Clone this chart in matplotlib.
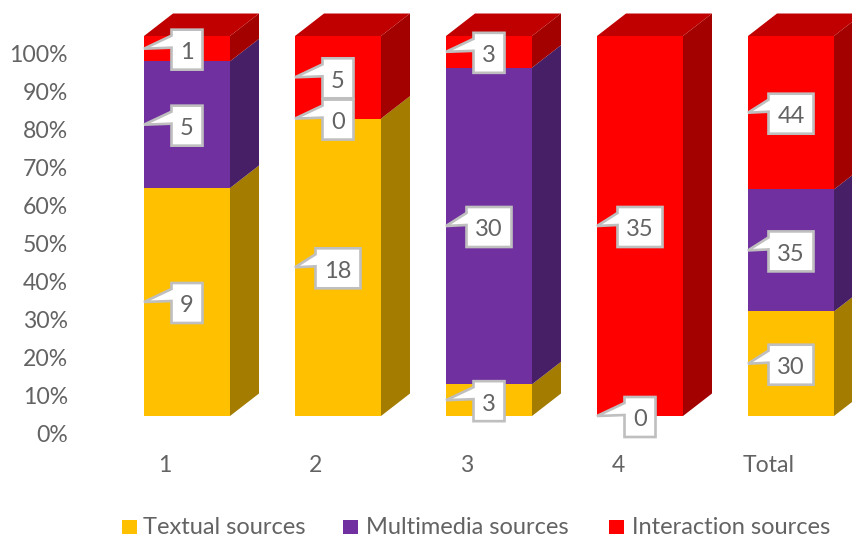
"""3D-look 100% stacked columns with callout labels, drawn on a flat axes."""

import matplotlib
matplotlib.use("Agg")
import matplotlib.pyplot as plt
import numpy as np
from matplotlib.patches import Polygon, Rectangle

# --- Data ------------------------------------------------------------------
categories = ["1", "2", "3", "4", "Total"]
textual = [9, 18, 3, 0, 30]
multimedia = [5, 0, 30, 0, 35]
interaction = [1, 5, 3, 35, 44]
series_names = ["Textual sources", "Multimedia sources", "Interaction sources"]
percent_ticks = [0, 10, 20, 30, 40, 50, 60, 70, 80, 90, 100]

# --- Style -----------------------------------------------------------------
W, H = 853, 538
FRONT = ["#FFC000", "#7030A0", "#FF0000"]
SIDE = ["#A37C00", "#471F66", "#A30000"]
TOP_FACE = ["#C29200", "#55247A", "#C00000"]
TEXT = "#636363"
BORDER = "#BFBFBF"

PX_X = 151.0  # pixels per category
PX_Y = 3.8    # pixels per percent
X0, Y0 = 187, 416  # pixel position of category 0 / 0%
BAR_W = 86 / PX_X
DX = 29 / PX_X
DY = 22.5 / PX_Y

plt.rcParams["font.family"] = ["Lato", "DejaVu Sans"]

fig = plt.figure(figsize=(W / 100, H / 100), dpi=100)
ax = fig.add_axes([0, 0, 1, 1])
ax.set_xlim(-X0 / PX_X, (W - X0) / PX_X)
ax.set_ylim(-(H - Y0) / PX_Y, Y0 / PX_Y)
ax.axis("off")


def callout(x_left, y_mid, value):
    """White box with a wedge pointing at the left edge of the segment."""
    half_w = (22.5 if value >= 10 else 15.5) / PX_X
    half_h = 20 / PX_Y
    box_mid = y_mid - 1 / PX_Y
    right = x_left + BAR_W / 2 + half_w
    left = x_left + BAR_W / 2 - half_w
    top = box_mid + half_h
    bottom = box_mid - half_h
    notch_hi = box_mid + 14 / PX_Y
    notch_lo = box_mid + 2 / PX_Y
    pts = [(left, bottom), (left, notch_lo), (x_left, y_mid), (left, notch_hi),
           (left, top), (right, top), (right, bottom)]
    ax.add_patch(Polygon(pts, closed=True, facecolor="white", edgecolor=BORDER,
                         linewidth=1.9, joinstyle="miter", zorder=5))
    ax.text(x_left + BAR_W / 2, y_mid - 2 / PX_Y, str(value), ha="center",
            va="center_baseline", fontsize=17, color=TEXT, zorder=6)


# --- Columns ---------------------------------------------------------------
counts = np.array([textual, multimedia, interaction], dtype=float)
shares = counts / counts.sum(axis=0) * 100
x = np.arange(len(categories))
bottoms = np.zeros(len(categories))

for s in range(len(series_names)):
    ax.bar(x, shares[s], BAR_W, bottom=bottoms, color=FRONT[s], linewidth=0, zorder=2)
    for i in x:
        lo, hi = bottoms[i], bottoms[i] + shares[s][i]
        if hi > lo:
            xr = i + BAR_W / 2
            ax.add_patch(Polygon([(xr, lo), (xr + DX, lo + DY), (xr + DX, hi + DY), (xr, hi)],
                                 closed=True, facecolor=SIDE[s], linewidth=0, zorder=2))
    bottoms = bottoms + shares[s]

# top face takes the colour of the highest non-empty segment
for i in x:
    s = max(k for k in range(len(series_names)) if counts[k][i] > 0)
    xl, xr = i - BAR_W / 2, i + BAR_W / 2
    ax.add_patch(Polygon([(xl, 100), (xr, 100), (xr + DX, 100 + DY), (xl + DX, 100 + DY)],
                         closed=True, facecolor=TOP_FACE[s], linewidth=0, zorder=2))

# callouts, bottom segment first so upper boxes do not get covered wrongly
bottoms = np.zeros(len(categories))
for s in range(len(series_names)):
    for i in x:
        if counts[s][i] > 0 or s == 1 and i == 1 or s == 1 and i == 3:
            callout(i - BAR_W / 2, bottoms[i] + shares[s][i] / 2, int(counts[s][i]))
    bottoms = bottoms + shares[s]

# --- Axis labels -----------------------------------------------------------
# tick labels sit lower than the front faces, like the floor of the 3D box
for p in percent_ticks:
    ax.text(-119 / PX_X, p - 19.5 / PX_Y, f"{p}%", ha="right", va="center",
            fontsize=16.6, color=TEXT)
for i, name in enumerate(categories):
    ax.text(i - 22 / PX_X, -49.5 / PX_Y, name, ha="center", va="center",
            fontsize=16.6, color=TEXT)

# --- Legend ----------------------------------------------------------------
for name, color, sq_x, txt_x in zip(series_names, FRONT, [122, 343, 609], [143, 366, 632]):
    fig.add_artist(Rectangle((sq_x / W, 1 - 534 / H), 15 / W, 14 / H, facecolor=color,
                             linewidth=0, transform=fig.transFigure))
    fig.text(txt_x / W, 1 - 527 / H, name, ha="left", va="center", fontsize=17, color=TEXT)

fig.savefig("out.png", dpi=100)
